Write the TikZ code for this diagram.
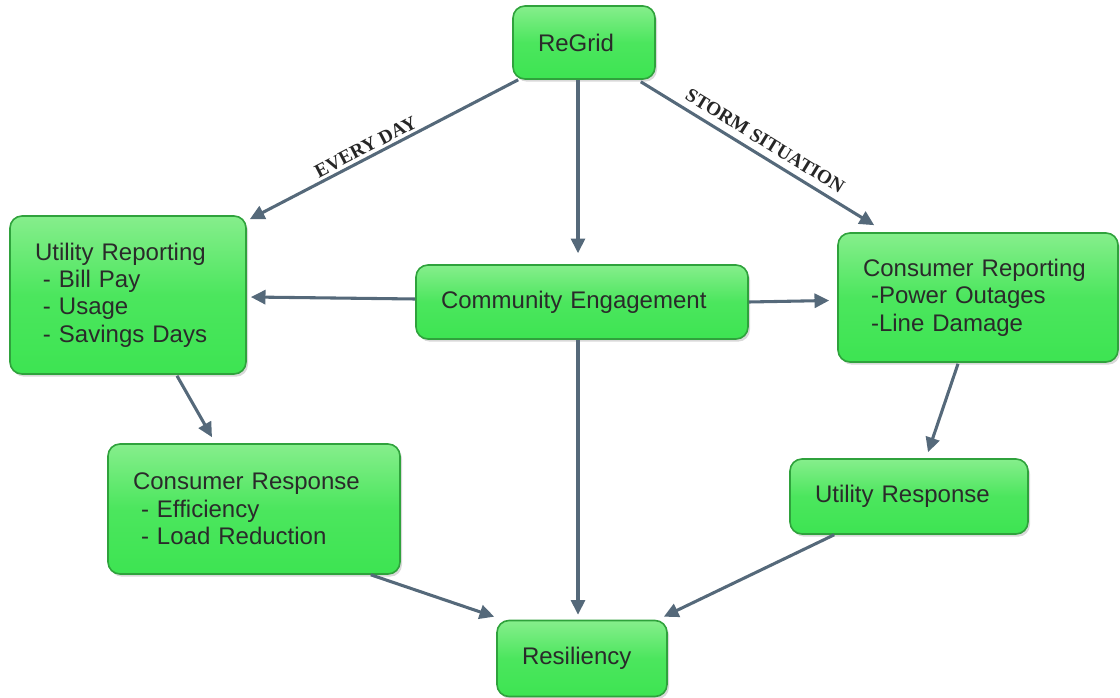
\documentclass[tikz,border=0pt]{standalone}
\usepackage{fontspec}
\setmainfont{Liberation Sans}
\newfontfamily\lblfont{Liberation Serif}
\usetikzlibrary{arrows.meta,calc,shadows}
\definecolor{boxtop}{HTML}{86EE8C}
\definecolor{boxbot}{HTML}{3DE452}
\definecolor{boxdraw}{HTML}{2FA23C}
\definecolor{arrcol}{HTML}{55697A}
\definecolor{txtcol}{HTML}{2A2A2A}
\tikzset{
  gbox/.style={draw=boxdraw, line width=1.2pt, rounded corners=9pt,
    top color=boxtop, bottom color=boxbot, middle color=boxbot!80!boxtop,
    drop shadow={opacity=0.3, shadow xshift=1.5pt, shadow yshift=-2pt},
    align=left, inner xsep=18.75pt, inner ysep=0pt,
    font=\fontsize{18}{20.6}\selectfont, text=txtcol},
  arr/.style={draw=arrcol, line width=2.3pt, -{Triangle[length=11pt,width=10.5pt]}},
  lbl/.style={font=\lblfont\bfseries\fontsize{14.5}{16}\selectfont, text=black!85, inner sep=2pt}
}
\begin{document}
\begin{tikzpicture}[x=0.75pt,y=-0.75pt]
\useasboundingbox (0,0) rectangle (1120,698);
\node[gbox, text width=69pt, minimum height=54.75pt] (regrid) at (584,42.5) {ReGrid};
\node[gbox, text width=139.5pt, minimum height=118.5pt] (utility) at (128,295) {Utility Reporting\\\ - Bill Pay\\\ - Usage\\\ - Savings Days};
\node[gbox, text width=211.5pt, minimum height=55.5pt] (community) at (582,302) {Community Engagement};
\node[gbox, text width=172.5pt, minimum height=96.75pt] (consrep) at (978,297.5) {Consumer Reporting\\\ -Power Outages\\\ -Line Damage};
\node[gbox, text width=181.5pt, minimum height=97.5pt] (consresp) at (254,509) {Consumer Response\\\ - Efficiency\\\ - Load Reduction};
\node[gbox, text width=141pt, minimum height=56.25pt] (utilresp) at (909,496.5) {Utility Response};
\node[gbox, text width=90pt, minimum height=57pt] (resil) at (582,658.5) {Resiliency};

\draw[arr] ($(regrid.south west)+(6,0)$) -- ($(utility.north east)+(3,4)$)
  node[lbl, pos=0.55, above, sloped] (everyday) {EVERY DAY};
\draw[arr] ($(regrid.south)+(-6,0)$) -- ($(community.north)+(-4,-11)$);
\draw[arr] ($(regrid.south east)+(-15,2)$) -- ($(consrep.north west)+(37,-7)$)
  node[lbl, pos=0.5, above, sloped, yshift=3pt] (storm) {STORM SITUATION};
\draw[arr] ($(community.west)+(0,-3)$) -- ($(utility.east)+(4,2)$);
\draw[arr] (community.east) -- ($(consrep.west)+(-8,3)$);
\draw[arr] ($(community.south)+(-4,0)$) -- ($(resil.north)+(-4,-5)$);
\draw[arr] ($(utility.south)+(49,1)$) -- ($(consresp.north)+(-42,-6)$);
\draw[arr] ($(consrep.south)+(-20,1)$) -- ($(utilresp.north)+(19,-6)$);
\draw[arr] ($(consresp.south east)+(-30,0)$) -- ($(resil.north west)+(-2,-3)$);
\draw[arr] ($(utilresp.south west)+(45,0)$) -- ($(resil.north east)+(-4,-3)$);
\end{tikzpicture}
\end{document}
